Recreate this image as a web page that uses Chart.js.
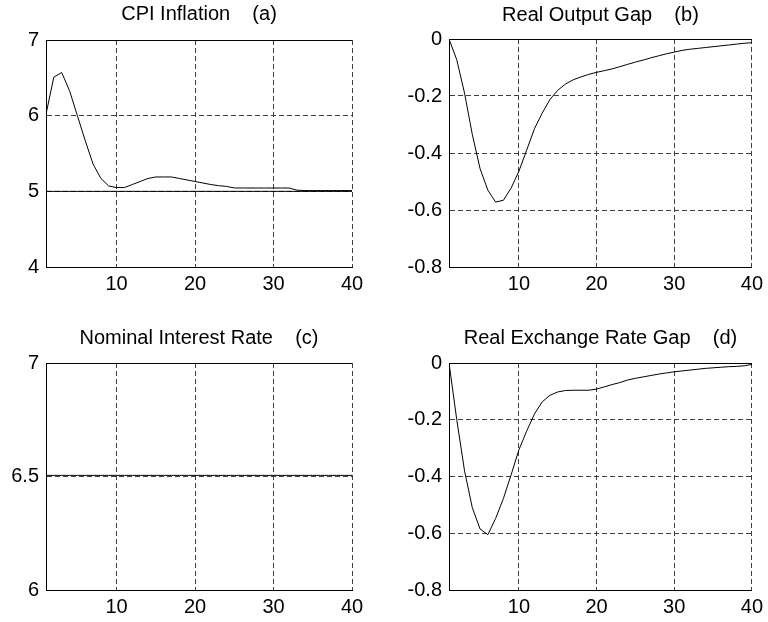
<!DOCTYPE html>
<html>
<head>
<meta charset="utf-8">
<script src="https://cdn.jsdelivr.net/npm/chart.js@4/dist/chart.umd.min.js"></script>
<style>
  body { margin: 0; background: #fff; }
  #wrap { position: relative; width: 768px; height: 622px; }
  #wrap canvas { position: absolute; }
</style>
</head>
<body>
<div id="wrap">
  <canvas id="chartA" width="384" height="311" style="left:0;top:0"></canvas>
  <canvas id="chartB" width="384" height="311" style="left:384px;top:0"></canvas>
  <canvas id="chartC" width="384" height="311" style="left:0;top:311px"></canvas>
  <canvas id="chartD" width="384" height="311" style="left:384px;top:311px"></canvas>
</div>
<script>
// Quarters after the shock
const periods = Array.from({ length: 40 }, (_, i) => i + 1);
const xTicks = [10, 20, 30, 40];

// (a) CPI inflation, with its steady state level
const cpiInflation = [
  6.02, 6.51, 6.57, 6.33, 6.00, 5.67, 5.36, 5.17, 5.07, 5.05,
  5.05, 5.09, 5.13, 5.17, 5.19, 5.19, 5.19, 5.17, 5.15, 5.13,
  5.11, 5.09, 5.075, 5.065, 5.045, 5.044, 5.044, 5.044, 5.044, 5.044,
  5.044, 5.044, 5.015, 5.01, 5.01, 5.01, 5.01, 5.01, 5.01, 5.01
];
const cpiSteadyState = 5;
const cpiTicks = [4, 5, 6, 7];

// (b) real output gap
const outputGap = [
  0, -0.073, -0.19, -0.335, -0.455, -0.53, -0.572, -0.566, -0.523, -0.464,
  -0.39, -0.315, -0.26, -0.212, -0.18, -0.158, -0.143, -0.133, -0.124, -0.117,
  -0.111, -0.105, -0.097, -0.089, -0.081, -0.074, -0.066, -0.059, -0.052, -0.046,
  -0.04, -0.036, -0.033, -0.03, -0.027, -0.024, -0.021, -0.018, -0.015, -0.013
];
const gapTicks = [-0.8, -0.6, -0.4, -0.2, 0];

// (c) nominal interest rate
const interestRate = [
  6.505, 6.505, 6.505, 6.505, 6.505, 6.505, 6.505, 6.505, 6.505, 6.505,
  6.505, 6.505, 6.505, 6.505, 6.505, 6.505, 6.505, 6.505, 6.505, 6.505,
  6.505, 6.505, 6.505, 6.505, 6.505, 6.505, 6.505, 6.505, 6.505, 6.505,
  6.505, 6.505, 6.505, 6.505, 6.505, 6.505, 6.505, 6.505, 6.505, 6.505
];
const rateTicks = [6, 6.5, 7];

// (d) real exchange rate gap
const exchangeGap = [
  0, -0.2, -0.38, -0.51, -0.585, -0.605, -0.548, -0.478, -0.394, -0.306,
  -0.24, -0.18, -0.137, -0.114, -0.102, -0.097, -0.096, -0.096, -0.096, -0.092,
  -0.084, -0.076, -0.069, -0.06, -0.054, -0.049, -0.044, -0.039, -0.035, -0.031,
  -0.028, -0.025, -0.022, -0.019, -0.017, -0.015, -0.013, -0.012, -0.01, -0.005
];

const FONT = { family: '"Liberation Sans", Arial, sans-serif', size: 20, weight: 'normal' };
const GRID_DASH = [5, 3];

function toPoints(values) {
  return periods.map((p, i) => ({ x: p, y: values[i] }));
}

// box: plot area inside the 384x311 canvas, titleY: centre of the title
function makePanel(id, title, datasets, yTicks, box) {
  const yMin = yTicks[0];
  const yMax = yTicks[yTicks.length - 1];
  new Chart(document.getElementById(id).getContext('2d'), {
    type: 'line',
    data: {
      datasets: datasets.map(d => ({
        data: d,
        borderColor: '#000',
        borderWidth: 1,
        pointRadius: 0,
        tension: 0,
        fill: false
      }))
    },
    options: {
      responsive: false,
      animation: false,
      layout: {
        autoPadding: false,
        padding: { left: 0, top: 0, bottom: 0, right: 384 - box.right }
      },
      plugins: {
        legend: { display: false },
        tooltip: { enabled: false },
        title: {
          display: true,
          text: title,
          fullSize: false,
          color: '#000',
          font: FONT,
          padding: { top: box.titleY - 12, bottom: box.top - (box.titleY - 12) - 24 }
        }
      },
      scales: {
        x: {
          type: 'linear',
          min: 1,
          max: 40,
          afterBuildTicks: s => { s.ticks = xTicks.map(v => ({ value: v })); },
          afterFit: s => { s.height = 311 - box.bottom; },
          grid: { color: '#404040', drawTicks: false },
          border: { color: '#000', dash: GRID_DASH },
          ticks: { color: '#000', font: FONT, padding: 5, maxRotation: 0, autoSkip: false }
        },
        y: {
          min: yMin,
          max: yMax,
          afterBuildTicks: s => { s.ticks = yTicks.map(v => ({ value: v })); },
          afterFit: s => { s.width = box.left; },
          grid: {
            color: c => (c.tick && c.tick.value === yMax) ? '#000' : '#404040',
            drawTicks: false
          },
          border: {
            color: '#000',
            dash: c => (c.tick && c.tick.value === yMax) ? [] : GRID_DASH
          },
          ticks: { color: '#000', font: FONT, padding: 7, callback: v => String(v) }
        }
      }
    }
  });
}

makePanel('chartA', 'CPI Inflation    (a)',
  [toPoints(cpiInflation), [{ x: periods[0], y: cpiSteadyState }, { x: periods[periods.length - 1], y: cpiSteadyState }]],
  cpiTicks, { left: 46, right: 352, top: 40, bottom: 267, titleY: 14 });

makePanel('chartB', 'Real Output Gap    (b)', [toPoints(outputGap)],
  gapTicks, { left: 65, right: 372, top: 39, bottom: 267, titleY: 15 });

makePanel('chartC', 'Nominal Interest Rate    (c)', [toPoints(interestRate)],
  rateTicks, { left: 46, right: 352, top: 52, bottom: 279, titleY: 27 });

makePanel('chartD', 'Real Exchange Rate Gap    (d)', [toPoints(exchangeGap)],
  gapTicks, { left: 65, right: 372, top: 52, bottom: 279, titleY: 27 });
</script>
</body>
</html>
